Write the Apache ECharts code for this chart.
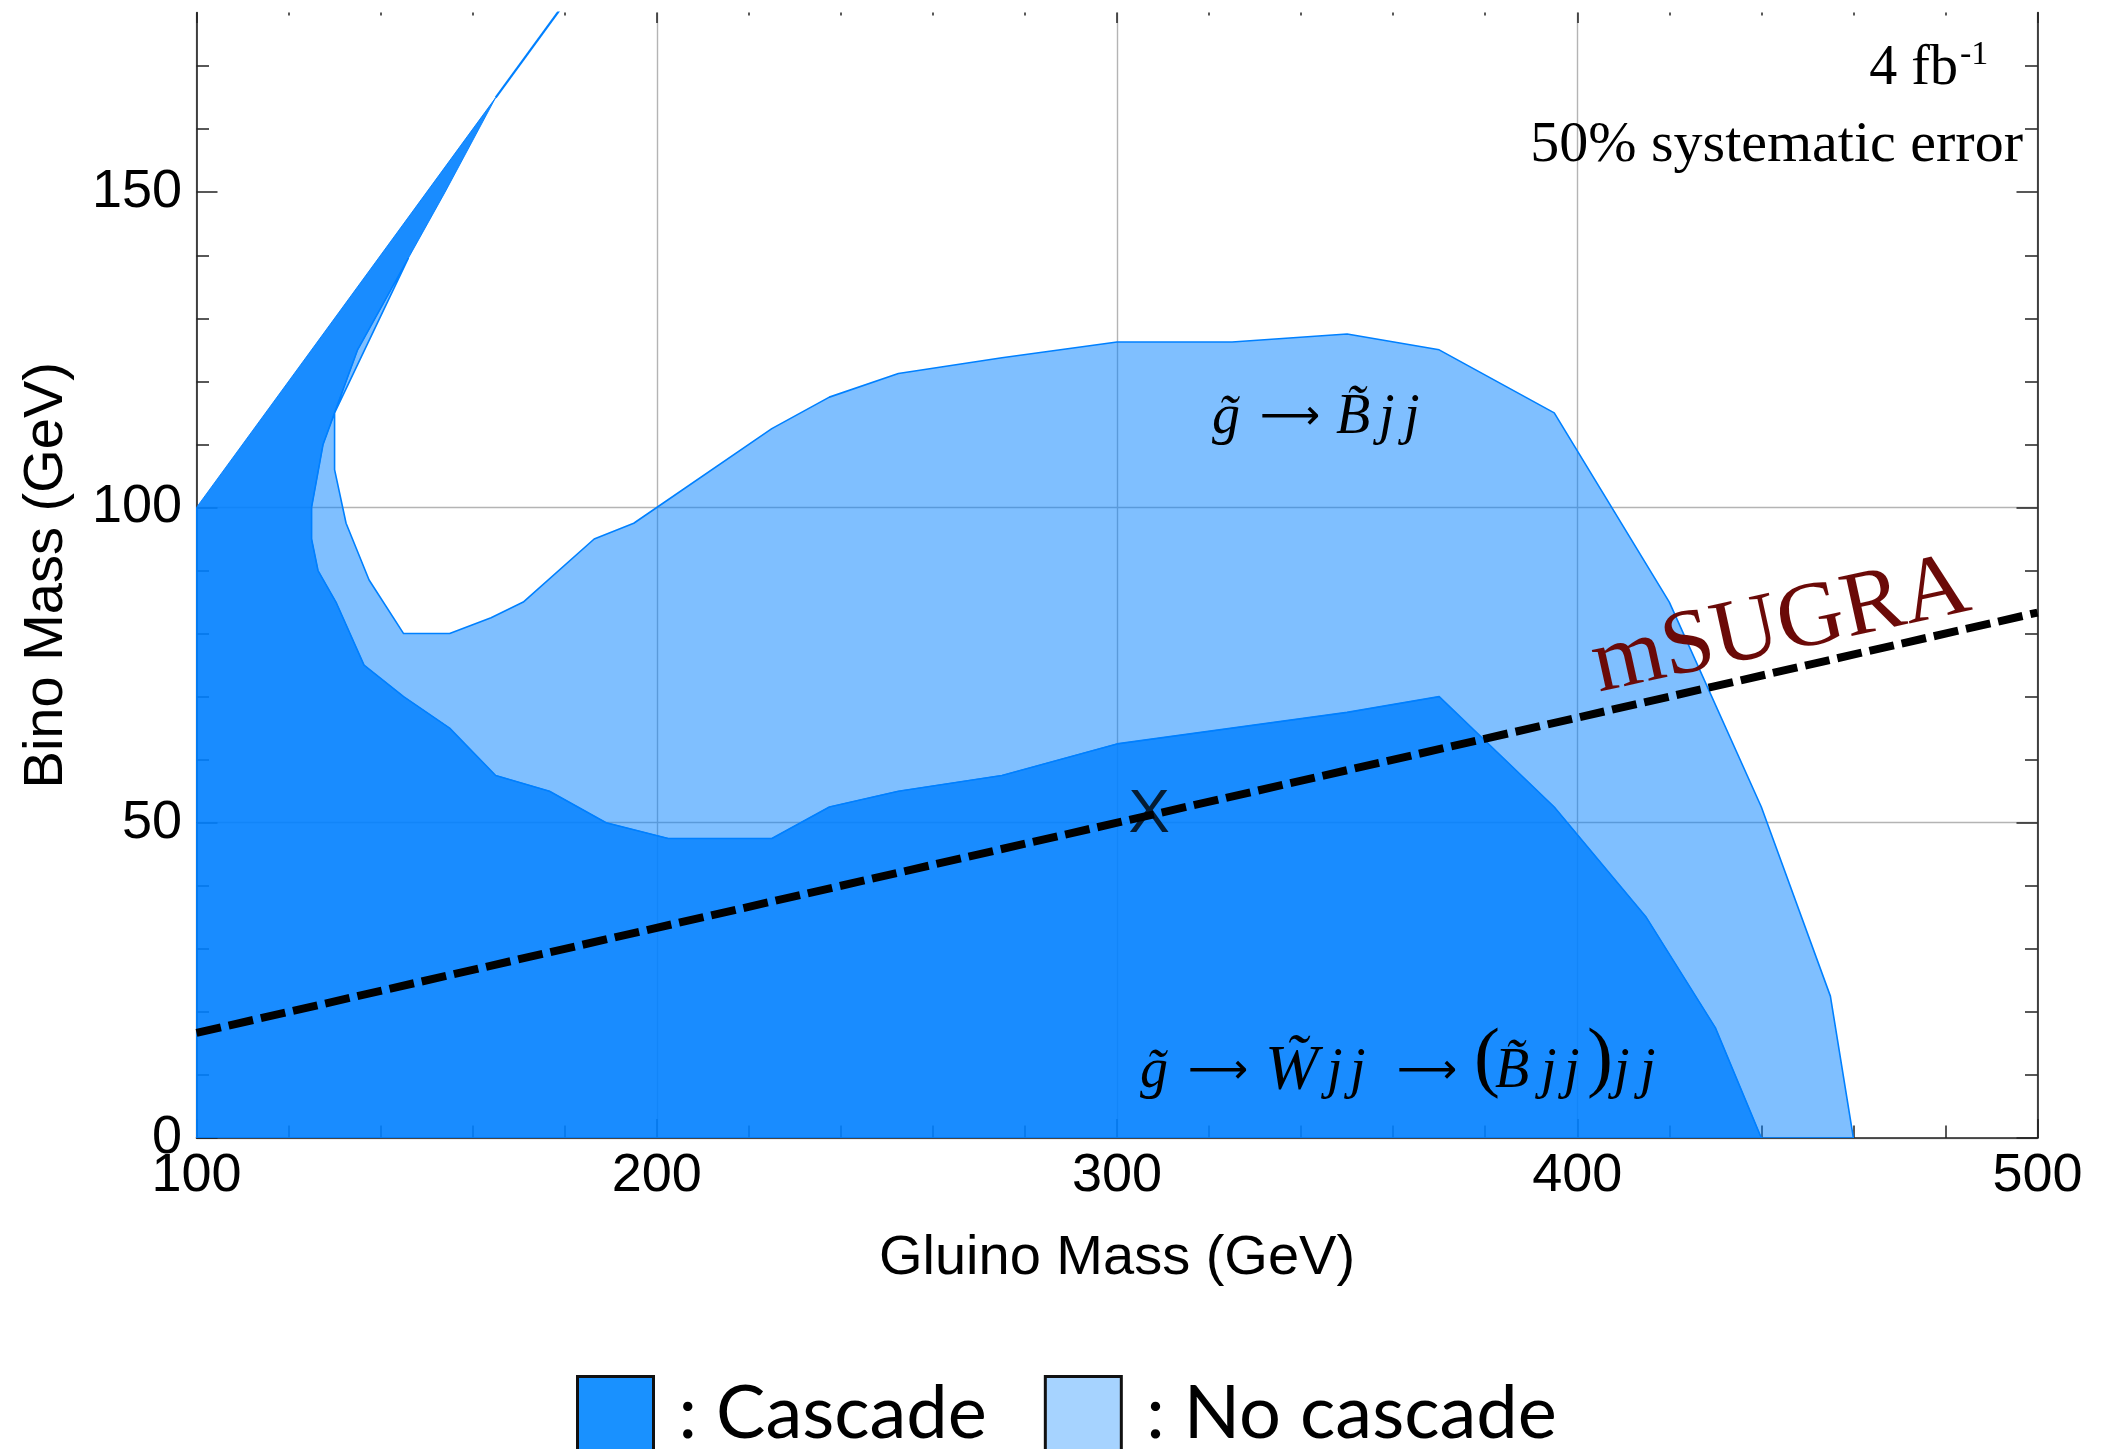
<!DOCTYPE html>
<html>
<head>
<meta charset="utf-8">
<script src="https://cdn.jsdelivr.net/npm/echarts@6/dist/echarts.min.js"></script>
<style>
  html, body { margin: 0; padding: 0; background: #fff; }
  #chart { width: 2102px; height: 1449px; }
</style>
</head>
<body>
<div id="chart"></div>
<script>
// Cascade region outline (gluino mass, bino mass in GeV)
const cascadeGluino = [100, 100, 165, 154, 146, 135, 130, 127.5, 125, 125, 126.4, 130.3, 136.4, 145, 155, 165, 176.7, 189, 202.5, 225, 237.5, 252.5, 275, 300, 350, 370, 395, 415, 430, 440];
const cascadeBino   = [0, 100, 165, 150, 139.5, 125, 115, 110, 100, 95, 90, 85, 75, 70, 65, 57.5, 55, 50, 47.5, 47.5, 52.5, 55, 57.5, 62.5, 67.5, 70, 52.5, 35, 17.5, 0];

// No-cascade band: outer reach, then back along the cascade edge
const noCascadeGluino = [460, 455, 440, 420, 395, 370, 350, 325, 300, 275, 252.5, 237.5, 225, 200, 195, 186.4, 171, 164, 155, 145, 137.5, 132.5, 130, 130, 146,
                         135, 130, 127.5, 125, 125, 126.4, 130.3, 136.4, 145, 155, 165, 176.7, 189, 202.5, 225, 237.5, 252.5, 275, 300, 350, 370, 395, 415, 430, 440];
const noCascadeBino   = [0, 22.5, 52.5, 85, 115, 125, 127.5, 126.25, 126.25, 123.75, 121.25, 117.5, 112.5, 100, 97.5, 95, 85, 82.5, 80, 80, 88.5, 97.5, 106, 115, 139.5,
                         125, 115, 110, 100, 95, 90, 85, 75, 70, 65, 57.5, 55, 50, 47.5, 47.5, 52.5, 55, 57.5, 62.5, 67.5, 70, 52.5, 35, 17.5, 0];

// Thin kinematic edge (bino = gluino) above the wedge
const edgeGluino = [165, 180];
const edgeBino   = [165, 180];

// mSUGRA relation and benchmark point
const msugraGluino = [100, 500];
const msugraBino   = [100 / 6, 500 / 6];
const benchmarkPoint = [307, 51.2];

// Axis ticks
const xMajor = [100, 200, 300, 400, 500];
const xMinor = [120, 140, 160, 180, 220, 240, 260, 280, 320, 340, 360, 380, 420, 440, 460, 480];
const yMajor = [0, 50, 100, 150];
const yMinor = [10, 20, 30, 40, 60, 70, 80, 90, 110, 120, 130, 140, 160, 170];

const X_MIN = 100, X_MAX = 500, Y_MIN = 0, Y_MAX = 178.5;

const chart = echarts.init(document.getElementById('chart'), null, { renderer: 'canvas' });

const tickColor = '#222';
const labelFont = { fontFamily: 'Liberation Sans', fontSize: 54, color: '#000' };
const titleFont = { fontFamily: 'Liberation Sans', fontSize: 56, color: '#000' };

function tickAxis(pos, ticks, len, extra) {
  const isX = pos === 'bottom' || pos === 'top';
  return Object.assign({
    type: 'value',
    position: pos,
    min: isX ? X_MIN : Y_MIN,
    max: isX ? X_MAX : Y_MAX,
    axisLine: { show: false, onZero: false },
    axisTick: { show: true, inside: true, length: len, customValues: ticks, lineStyle: { color: tickColor, width: 1.5 } },
    axisLabel: { show: false },
    splitLine: { show: false }
  }, extra || {});
}

function polygonSeries(name, xs, ys, fill, stroke, lw) {
  return {
    type: 'custom',
    name: name,
    silent: true,
    clip: true,
    data: [[xs[0], ys[0]]],
    itemStyle: { color: fill },
    renderItem: function (params, api) {
      return {
        type: 'polygon',
        shape: { points: xs.map(function (x, i) { return api.coord([x, ys[i]]); }) },
        style: { fill: fill, stroke: stroke, lineWidth: lw, lineJoin: 'round' }
      };
    }
  };
}

// Typeset a formula as a row of rich-text pieces, each with its own box width
const MATH_IT = { fontFamily: 'Liberation Serif', fontStyle: 'italic', fontSize: 56 };
const MATH_ARROW = { fontFamily: 'DejaVu Sans', fontSize: 42 };
const MATH_PAREN = { fontFamily: 'Liberation Serif', fontSize: 78, padding: [0, 0, 20, 0] };
function formula(pieces) {
  const rich = {};
  let text = '';
  pieces.forEach(function (p, k) {
    const key = 'p' + k;
    rich[key] = Object.assign({ fill: '#000', width: p[2] }, p[1]);
    text += '{' + key + '|' + p[0] + '}';
  });
  return { text: text, rich: rich };
}
const labelBino = formula([
  ['g\u0303', MATH_IT, 48],
  ['\u27F6', MATH_ARROW, 76],
  ['B\u0303', MATH_IT, 43],
  ['j', MATH_IT, 25],
  ['j', MATH_IT, 25]
]);
const labelWino = formula([
  ['g\u0303', MATH_IT, 48],
  ['\u27F6', MATH_ARROW, 77],
  ['W\u0303', Object.assign({}, MATH_IT, { fontSize: 64 }), 62],
  ['j', MATH_IT, 23],
  ['j', MATH_IT, 47],
  ['\u27F6', MATH_ARROW, 77],
  ['(', MATH_PAREN, 21],
  ['B\u0303', MATH_IT, 46],
  ['j', MATH_IT, 23],
  ['j', MATH_IT, 23],
  [')', MATH_PAREN, 27],
  ['j', MATH_IT, 26],
  ['j', MATH_IT, 26]
]);

const option = {
  animation: false,
  backgroundColor: '#fff',
  grid: { left: 196.5, right: 64.5, top: 12.5, bottom: 311, containLabel: false, outerBoundsMode: 'none' },
  xAxis: [
    tickAxis('bottom', xMajor, 19, {
      interval: 100,
      axisLine: { show: true, onZero: false, lineStyle: { color: tickColor, width: 1.6 } },
      axisLabel: Object.assign({ show: true, customValues: xMajor, margin: 11 }, labelFont),
      splitLine: { show: true, lineStyle: { color: '#b4b4b4', width: 1.4 } },
      name: 'Gluino Mass (GeV)',
      nameLocation: 'middle',
      nameGap: 93,
      nameTextStyle: titleFont
    }),
    tickAxis('bottom', xMinor, 12.5),
    tickAxis('top', xMajor, 10.5),
    tickAxis('top', xMinor, 3)
  ],
  yAxis: [
    tickAxis('left', yMajor, 21, {
      interval: 50,
      axisLine: { show: true, onZero: false, lineStyle: { color: tickColor, width: 1.6 } },
      axisLabel: Object.assign({ show: true, customValues: yMajor, margin: 14.5, padding: [0, 0, 11, 0] }, labelFont),
      splitLine: { show: true, showMaxLine: false, lineStyle: { color: '#b4b4b4', width: 1.4 } },
      name: 'Bino Mass (GeV)',
      nameLocation: 'middle',
      nameGap: 122,
      nameTextStyle: titleFont
    }),
    tickAxis('left', yMinor, 12.5),
    tickAxis('right', yMajor, 21, {
      axisLine: { show: true, onZero: false, lineStyle: { color: tickColor, width: 1.6 } }
    }),
    tickAxis('right', yMinor, 12.5)
  ],
  legend: {
    left: 571,
    top: 1370,
    orient: 'horizontal',
    itemWidth: 76,
    itemHeight: 76,
    itemGap: 57,
    selectedMode: false,
    formatter: function (name) { return ': ' + name; },
    textStyle: { fontFamily: 'Lato', fontSize: 74, color: '#000', padding: [0, 0, 0, 20] },
    data: [
      { name: 'Cascade', icon: 'rect', itemStyle: { color: '#1991ff', borderColor: '#111', borderWidth: 3 } },
      { name: 'No cascade', icon: 'rect', itemStyle: { color: '#a6d3ff', borderColor: '#111', borderWidth: 3 } }
    ]
  },
  series: [
    polygonSeries('No cascade', noCascadeGluino, noCascadeBino, 'rgba(0,128,255,0.5)', 'rgb(0,128,255)', 1.6),
    polygonSeries('Cascade', cascadeGluino, cascadeBino, 'rgba(0,128,255,0.9)', 'rgba(0,128,255,0.9)', 1),
    {
      type: 'line',
      name: 'edge',
      silent: true,
      clip: true,
      symbol: 'none',
      data: edgeGluino.map(function (x, i) { return [x, edgeBino[i]]; }),
      lineStyle: { color: 'rgb(0,128,255)', width: 2.2 }
    },
    {
      type: 'line',
      name: 'mSUGRA',
      silent: true,
      clip: true,
      symbol: 'none',
      data: msugraGluino.map(function (x, i) { return [x, msugraBino[i]]; }),
      lineStyle: { color: '#000', width: 8, type: [25, 8], cap: 'butt' },
      z: 5
    },
    {
      type: 'scatter',
      name: 'benchmark',
      silent: true,
      symbolSize: 1,
      itemStyle: { color: 'rgba(0,0,0,0)' },
      data: [benchmarkPoint],
      label: {
        show: true,
        position: 'inside',
        formatter: 'X',
        fontFamily: 'Liberation Sans',
        fontSize: 62,
        color: '#000'
      },
      z: 6
    }
  ],
  graphic: [
    {
      type: 'text', x: 1958, y: 69, z: 10,
      style: { text: '4 fb', font: '56px "Liberation Serif"', fill: '#000', align: 'right', verticalAlign: 'middle' }
    },
    {
      type: 'text', x: 1960, y: 55, z: 10,
      style: { text: '-1', font: '34px "Liberation Serif"', fill: '#000', align: 'left', verticalAlign: 'middle' }
    },
    {
      type: 'text', x: 2023, y: 146, z: 10,
      style: { text: '50% systematic error', font: '58px "Liberation Serif"', fill: '#000', align: 'right', verticalAlign: 'middle' }
    },
    {
      type: 'text', x: 1781, y: 627, z: 10,
      rotation: 12.4 * Math.PI / 180,
      style: { text: 'mSUGRA', font: '92px "Liberation Serif"', fill: '#6b0a08', align: 'center', verticalAlign: 'middle' }
    },
    {
      type: 'text', x: 1212, y: 418, z: 10,
      style: { text: labelBino.text, rich: labelBino.rich, align: 'left', verticalAlign: 'middle', fill: '#000' }
    },
    {
      type: 'text', x: 1140, y: 1072, z: 10,
      style: { text: labelWino.text, rich: labelWino.rich, align: 'left', verticalAlign: 'middle', fill: '#000' }
    }
  ]
};

chart.setOption(option);
</script>
</body>
</html>
